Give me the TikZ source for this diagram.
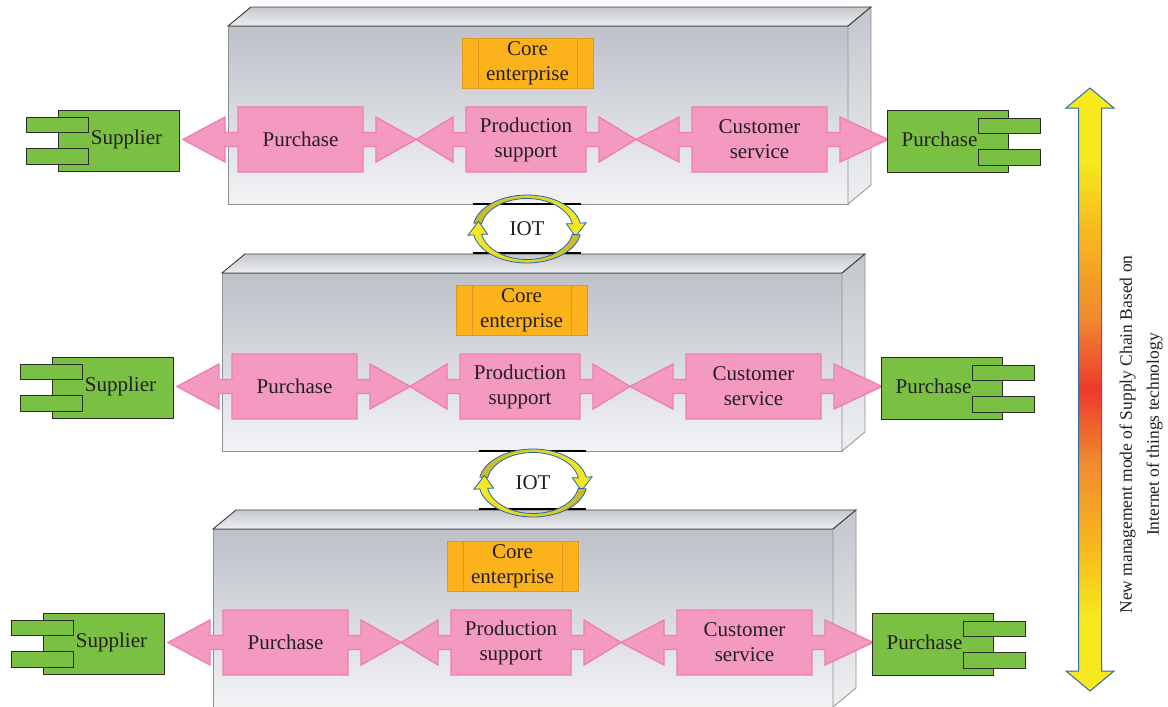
\documentclass[tikz,border=0pt]{standalone}
\usepackage{fontspec}
\setmainfont{Liberation Serif}
\definecolor{frontT}{HTML}{BDC1C8}
\definecolor{frontB}{HTML}{F2F3F5}
\definecolor{topT}{HTML}{C5C8CC}
\definecolor{topB}{HTML}{EDEEF0}
\definecolor{sideT}{HTML}{C3C6CB}
\definecolor{sideB}{HTML}{EEF0F2}
\definecolor{edgeg}{HTML}{8E9194}
\definecolor{edged}{HTML}{3A3A3A}
\definecolor{coref}{HTML}{FBB21B}
\definecolor{cored}{HTML}{E1961F}
\definecolor{pinkf}{HTML}{F49AC1}
\definecolor{pinkd}{HTML}{F07EAB}
\definecolor{greenf}{HTML}{7AC143}
\definecolor{greend}{HTML}{2B2B2B}
\definecolor{txt}{HTML}{231F20}
\definecolor{ringy}{HTML}{F8EC22}
\definecolor{ringo}{HTML}{C8B82C}
\definecolor{ringb}{HTML}{2566AE}
\definecolor{ay}{HTML}{F6EA1E}
\definecolor{aa}{HTML}{F7B81D}
\definecolor{ao}{HTML}{F08A30}
\definecolor{ar}{HTML}{ED3A2C}
\definecolor{arrb}{HTML}{2E6BB0}
\pgfdeclareverticalshading{bigarr}{100bp}{color(0bp)=(ay); color(25bp)=(ay); color(31bp)=(ay); color(37bp)=(aa); color(44bp)=(ao); color(50bp)=(ar); color(56bp)=(ao); color(63bp)=(aa); color(69bp)=(ay); color(75bp)=(ay); color(100bp)=(ay)}

\newcommand\pinkarr[6]{%
  \draw[pinkshape] (#2,386.5) -- (#3-13,364) -- (#3-13,379.5) -- (#3,379.5) -- (#3,354) -- (#4,354) -- (#4,379.5) -- (#4+13,379.5) -- (#4+13,364) -- (#5,386.5) -- (#4+13,409) -- (#4+13,393.5) -- (#4,393.5) -- (#4,419) -- (#3,419) -- (#3,393.5) -- (#3-13,393.5) -- (#3-13,409) -- cycle;
  \node[lbl] (#1) at ({(#3+#4)/2},386.5) {#6};
}
\newcommand\scrow[1]{%
  \shade[top color=frontT, bottom color=frontB, draw=edgeg, line width=0.8pt] (222,273) rectangle (842,451);
  \shade[top color=topT, bottom color=topB] (222,273) -- (245,254) -- (865,254) -- (842,273) -- cycle;
  \shade[top color=sideT, bottom color=sideB, draw=edgeg, line width=0.8pt] (842,273) -- (865,254) -- (865,432) -- (842,451) -- cycle;
  \draw[edged, line width=0.9pt, line join=miter] (222,273) -- (245,254) -- (865,254) -- (842,273) -- cycle;
  \draw[corebox] (456,285) rectangle (587,335);
  \draw[cored, line width=0.9pt] (472,285) -- (472,335) (571,285) -- (571,335);
  \node[lbl] (core#1) at (521.5,310) {Core\\enterprise};
  \pinkarr{pur#1}{177}{232}{357}{410}{Purchase}
  \pinkarr{prod#1}{410}{460}{580}{630}{Production\\support}
  \pinkarr{cus#1}{630}{686}{821}{882}{Customer\\service}
  \draw[greenbox] (52,357) rectangle (173,418);
  \draw[greenbox] (20,364) rectangle (82,379);
  \draw[greenbox] (20,395) rectangle (82,411);
  \node[lbl] (sup#1) at (120.5,386.5) {Supplier};
  \draw[greenbox] (881,357) rectangle (1002,419);
  \draw[greenbox] (972,365) rectangle (1034,380);
  \draw[greenbox] (972,396) rectangle (1034,412);
  \node[lbl] (buy#1) at (933.5,386.5) {Purchase};
}
\newcommand\iotsym[7]{%
  \draw[black, line width=1.2pt] (#4,#6) -- (#5,#6) (#4,#7) -- (#5,#7);
  \begin{scope}[shift={(#2,#3)}]
    \path[left color=ringo, right color=ringy, draw=ringb, line width=0.8pt, line join=miter]
      plot[domain=190:350, samples=40] ({54*cos(\x)},{34*sin(\x)})
      -- ({60*cos(350)},{36*sin(350)}) -- ({50*cos(14)},{32*sin(14)}) -- ({40*cos(350)},{30*sin(350)})
      -- plot[domain=350:190, samples=40] ({46*cos(\x)},{30.5*sin(\x)}) -- cycle;
    \path[left color=ringy, right color=ringo, draw=ringb, line width=0.8pt, line join=miter]
      plot[domain=10:170, samples=40] ({54*cos(\x)},{34*sin(\x)})
      -- ({60*cos(170)},{36*sin(170)}) -- ({50*cos(194)},{32*sin(194)}) -- ({40*cos(170)},{30*sin(170)})
      -- plot[domain=170:10, samples=40] ({46*cos(\x)},{30.5*sin(\x)}) -- cycle;
  \end{scope}
  \node[lbl] (#1) at (#2,#3) {IOT};
}

\begin{document}
\begin{tikzpicture}[x=1pt, y=-1pt, font=\fontsize{21}{25}\selectfont, text=txt,
  pinkshape/.style={fill=pinkf, draw=pinkd, line width=1.3pt, line join=miter},
  greenbox/.style={fill=greenf, draw=greend, line width=0.9pt},
  corebox/.style={fill=coref, draw=cored, line width=0.9pt},
  lbl/.style={align=center, inner sep=0pt}]
\useasboundingbox (0,0) rectangle (1168,707);
\fill[white] (0,0) rectangle (1168,707);

\begin{scope}[shift={(6,-247)}]\scrow{a}\end{scope}
\scrow{b}
\begin{scope}[shift={(-9,256)}]\scrow{c}\end{scope}

\iotsym{iota}{527}{229}{473}{581}{204}{253}
\iotsym{iotb}{533}{483}{479}{586}{451}{509}

\shade[shading=bigarr, draw=arrb, line width=1pt, line join=miter]
  (1090,88) -- (1114,108) -- (1101.5,108) -- (1101.5,671) -- (1114,671) -- (1090,691)
  -- (1066,671) -- (1078.5,671) -- (1078.5,108) -- (1066,108) -- cycle;
\node[rotate=90, align=center, font=\fontsize{17.5}{27}\selectfont] (label) at (1141,434.5)
  {New management mode of Supply Chain Based on\\Internet of things technology};
\end{tikzpicture}
\end{document}
